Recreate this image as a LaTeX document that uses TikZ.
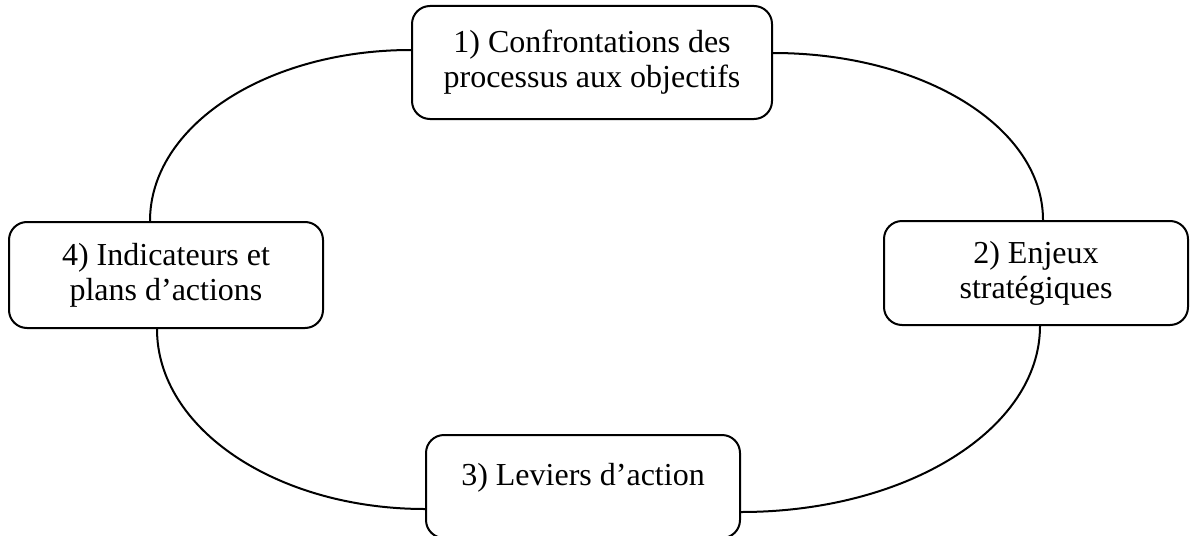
\documentclass[tikz,border=0pt]{standalone}
\usepackage{fontspec}
\setmainfont{Liberation Serif}
\usetikzlibrary{calc}

\begin{document}
\begin{tikzpicture}[x=1pt,y=-1pt,
    etape/.style={draw,line width=2pt,rounded corners=18pt,align=center,
        font=\fontsize{32}{35}\selectfont},
    lien/.style={line width=2pt}]
    \useasboundingbox (0,0) rectangle (1190,535);
    % les quatre etapes
    \node[etape,minimum width=360pt,minimum height=113pt] (conf) at (592,62.5) {1) Confrontations des\\processus aux objectifs};
    \node[etape,minimum width=304pt,minimum height=104pt] (enjeux) at (1036,273) {2) Enjeux\\stratégiques};
    \node[etape,minimum width=314pt,minimum height=103pt] (leviers) at (583,486.5) {3) Leviers d’action\\[-10pt]~};
    \node[etape,minimum width=314pt,minimum height=106pt] (indic) at (166,275) {4) Indicateurs et\\plans d’actions};
    % le cycle
    \draw[lien] ($(indic.north)+(-16,0)$) .. controls +(0,-95) and +(-145,0) .. ($(conf.west)+(0,-12.5)$);
    \draw[lien] ($(conf.east)+(0,-9.5)$) .. controls +(150,0) and +(0,-93) .. ($(enjeux.north)+(7,0)$);
    \draw[lien] ($(enjeux.south)+(4,0)$) .. controls +(0,103) and +(166,0) .. ($(leviers.east)+(0,25.5)$);
    \draw[lien] ($(leviers.west)+(0,22.5)$) .. controls +(-148,0) and +(0,100) .. ($(indic.south)+(-9,0)$);
\end{tikzpicture}
\end{document}
